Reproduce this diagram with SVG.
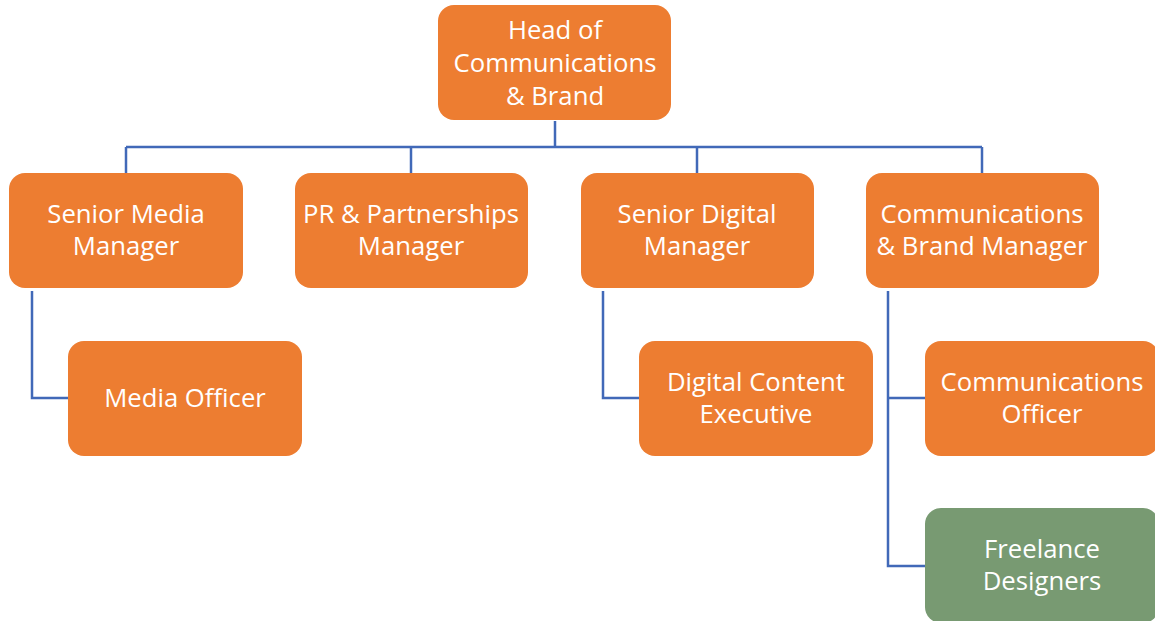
<svg xmlns="http://www.w3.org/2000/svg" width="1155" height="621" viewBox="0 0 1155 621">
  <style>
    .box { fill: #ED7D31; }
    .box.green { fill: #789A72; }
    .lbl { font-family: "Open Sans", "Liberation Sans", Arial, sans-serif; font-size: 25.7px; fill: #FFFFFF; text-anchor: middle; }
    .wire { fill: none; stroke: #4169B8; stroke-width: 2.5; }
  </style>
  <rect width="1155" height="621" fill="#FFFFFF"/>

  <g id="connectors">
    <path class="wire" d="M555,121 V147"/>
    <path class="wire" d="M126,147 H982"/>
    <path class="wire" d="M126,147 V173"/>
    <path class="wire" d="M411,147 V173"/>
    <path class="wire" d="M697,147 V173"/>
    <path class="wire" d="M982,147 V173"/>
    <path class="wire" d="M32,291 V398 H68"/>
    <path class="wire" d="M603,291 V398 H639"/>
    <path class="wire" d="M888,291 V566 H925"/>
    <path class="wire" d="M888,398 H925"/>
  </g>

  <g id="head">
    <rect class="box" x="438" y="5" width="233" height="115" rx="16"/>
    <text class="lbl" x="555" y="39">Head of</text>
    <text class="lbl" x="555" y="72">Communications</text>
    <text class="lbl" x="555" y="105">&amp; Brand</text>
  </g>

  <g id="senior-media-manager">
    <rect class="box" x="9" y="173" width="234" height="115" rx="16"/>
    <text class="lbl" x="126" y="223">Senior Media</text>
    <text class="lbl" x="126" y="255">Manager</text>
  </g>

  <g id="pr-partnerships-manager">
    <rect class="box" x="295" y="173" width="233" height="115" rx="16"/>
    <text class="lbl" x="411" y="223">PR &amp; Partnerships</text>
    <text class="lbl" x="411" y="255">Manager</text>
  </g>

  <g id="senior-digital-manager">
    <rect class="box" x="581" y="173" width="233" height="115" rx="16"/>
    <text class="lbl" x="697" y="223">Senior Digital</text>
    <text class="lbl" x="697" y="255">Manager</text>
  </g>

  <g id="comms-brand-manager">
    <rect class="box" x="866" y="173" width="233" height="115" rx="16"/>
    <text class="lbl" x="982" y="223">Communications</text>
    <text class="lbl" x="982" y="255">&amp; Brand Manager</text>
  </g>

  <g id="media-officer">
    <rect class="box" x="68" y="341" width="234" height="115" rx="16"/>
    <text class="lbl" x="185" y="407">Media Officer</text>
  </g>

  <g id="digital-content-executive">
    <rect class="box" x="639" y="341" width="234" height="115" rx="16"/>
    <text class="lbl" x="756" y="391">Digital Content</text>
    <text class="lbl" x="756" y="423">Executive</text>
  </g>

  <g id="communications-officer">
    <rect class="box" x="925" y="341" width="234" height="115" rx="16"/>
    <text class="lbl" x="1042" y="391">Communications</text>
    <text class="lbl" x="1042" y="423">Officer</text>
  </g>

  <g id="freelance-designers">
    <rect class="box green" x="925" y="508" width="234" height="115" rx="16"/>
    <text class="lbl" x="1042" y="558">Freelance</text>
    <text class="lbl" x="1042" y="590">Designers</text>
  </g>
</svg>
